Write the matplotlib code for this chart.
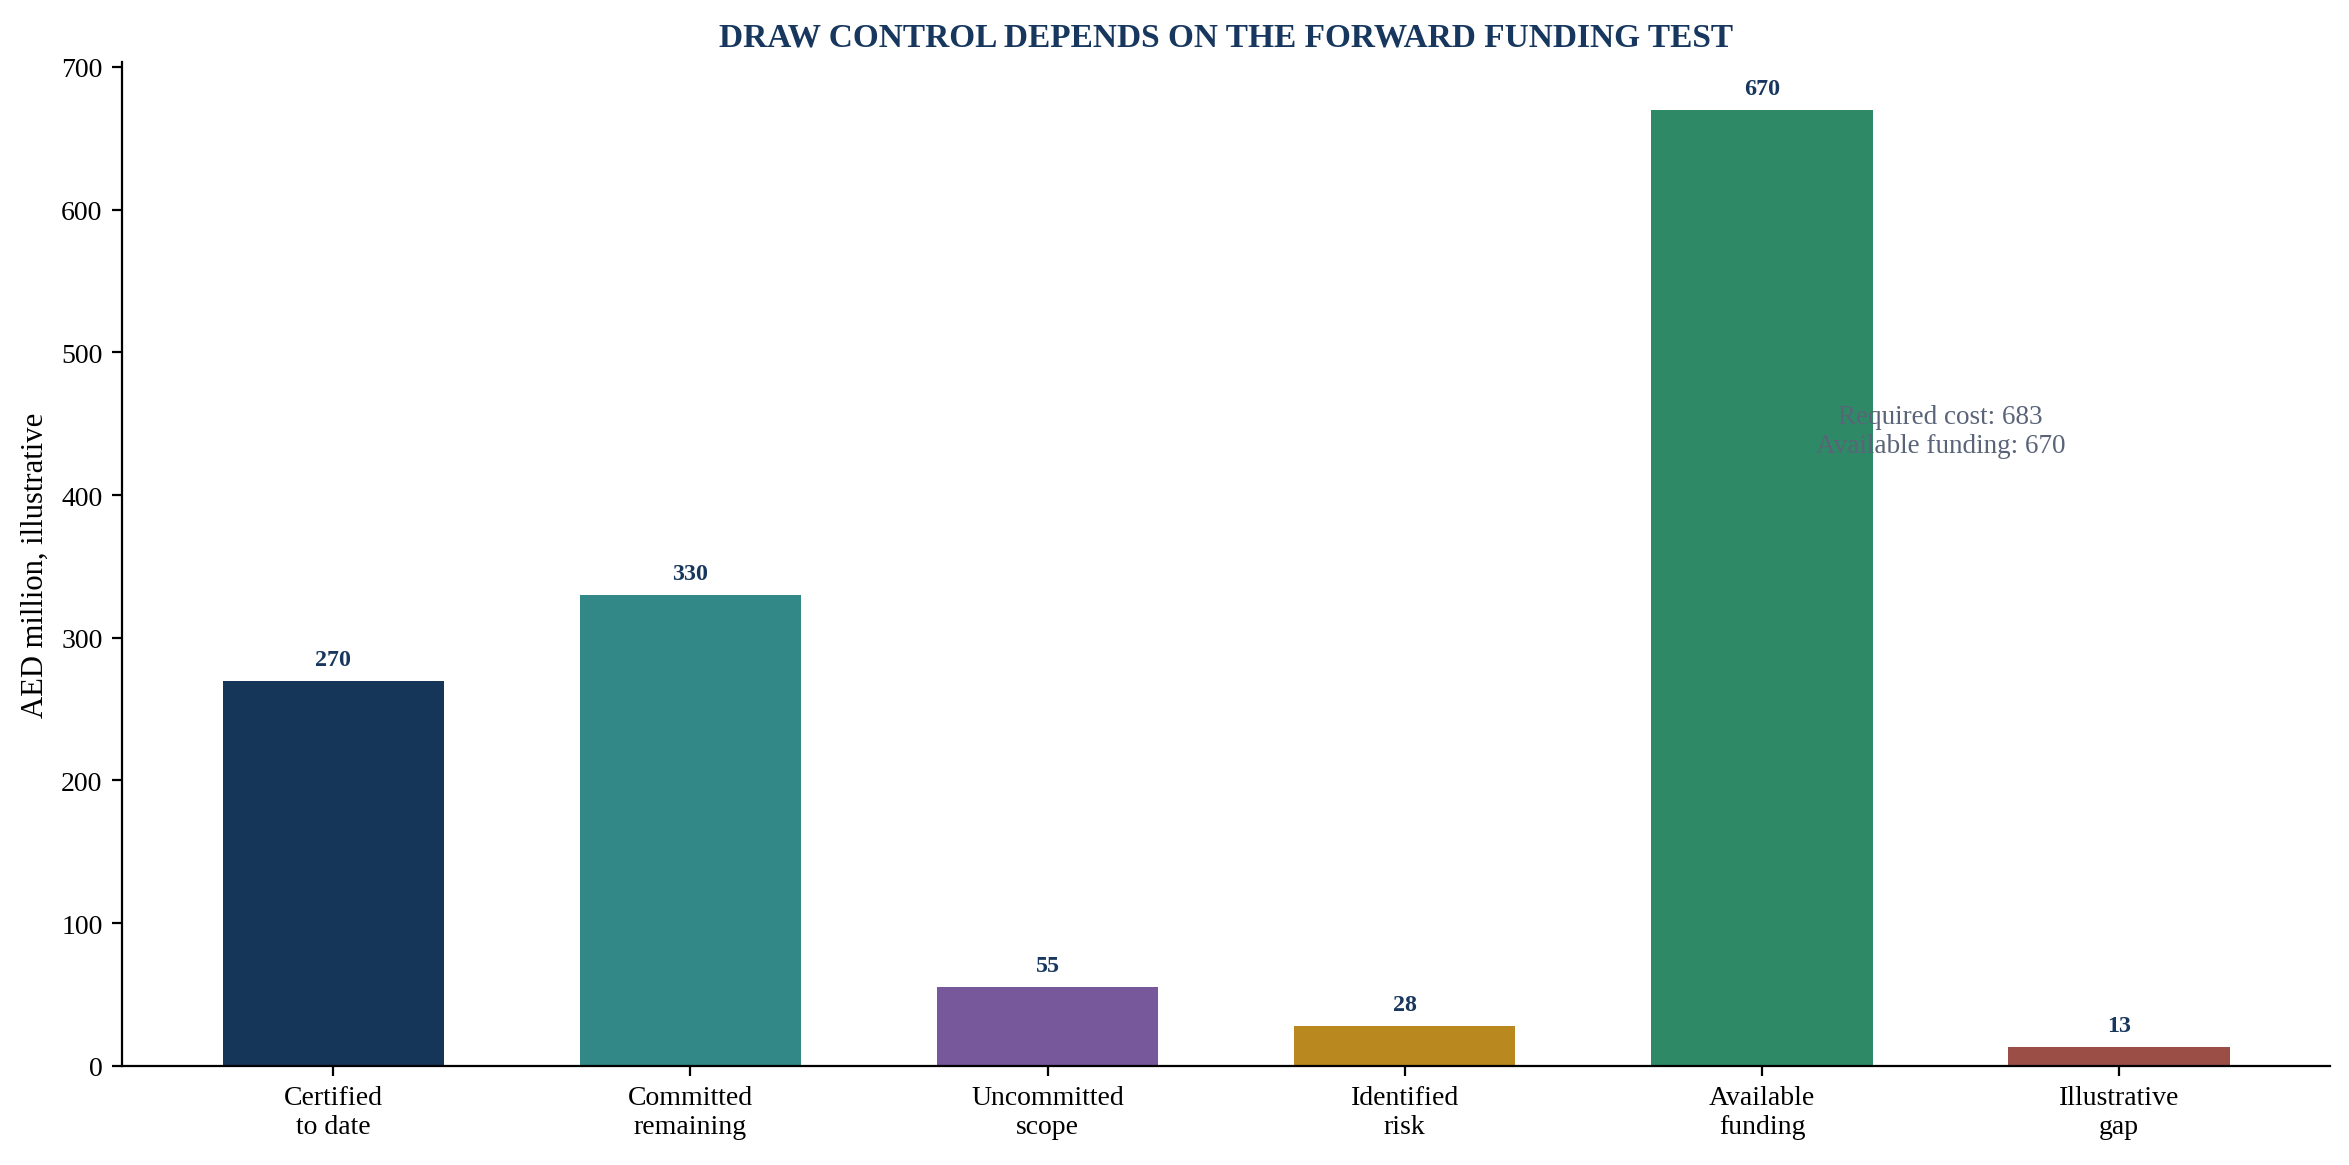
import matplotlib
matplotlib.use("Agg")
import matplotlib.pyplot as plt

plt.rcParams['font.family'] = ['Liberation Serif', 'DejaVu Serif']

categories = ['Certified\nto date', 'Committed\nremaining', 'Uncommitted\nscope',
              'Identified\nrisk', 'Available\nfunding', 'Illustrative\ngap']
values = [270, 330, 55, 28, 670, 13]
bar_colors = ['#153559', '#318886', '#77589a', '#b9891f', '#2e8a66', '#9b4e46']
required_cost = 683
available_funding = 670

fig, ax = plt.subplots(figsize=(15.66, 7.773), dpi=150)
x = list(range(len(categories)))
bars = ax.bar(x, values, width=0.62, color=bar_colors)

# value labels above each bar
for b, v in zip(bars, values):
    ax.annotate(str(v), (b.get_x() + b.get_width() / 2, b.get_height()),
                xytext=(0, 5.3), textcoords='offset points', ha='center', va='bottom',
                fontsize=11.5, fontweight='bold', color='#17375e')

ax.text(4.5, 445, 'Required cost: ' + str(required_cost) + '\nAvailable funding: ' + str(available_funding),
        ha='center', va='center', fontsize=13, color='#5a6478')

ax.set_xticks(x)
ax.set_xticklabels(categories, fontsize=13.3)
ax.tick_params(axis='both', labelsize=13.3, length=4.7, width=1.07, pad=4.7)
ax.set_ylabel('AED million, illustrative', fontsize=14.7, labelpad=5.3)
ax.set_title('DRAW CONTROL DEPENDS ON THE FORWARD FUNDING TEST', fontsize=16,
             fontweight='bold', color='#17375e', pad=8)
ax.spines['top'].set_visible(False)
ax.spines['right'].set_visible(False)
ax.spines['left'].set_linewidth(1.07)
ax.spines['bottom'].set_linewidth(1.07)

fig.subplots_adjust(left=0.052, right=0.992, bottom=0.085, top=0.946)
fig.savefig('out.png', dpi=150)
